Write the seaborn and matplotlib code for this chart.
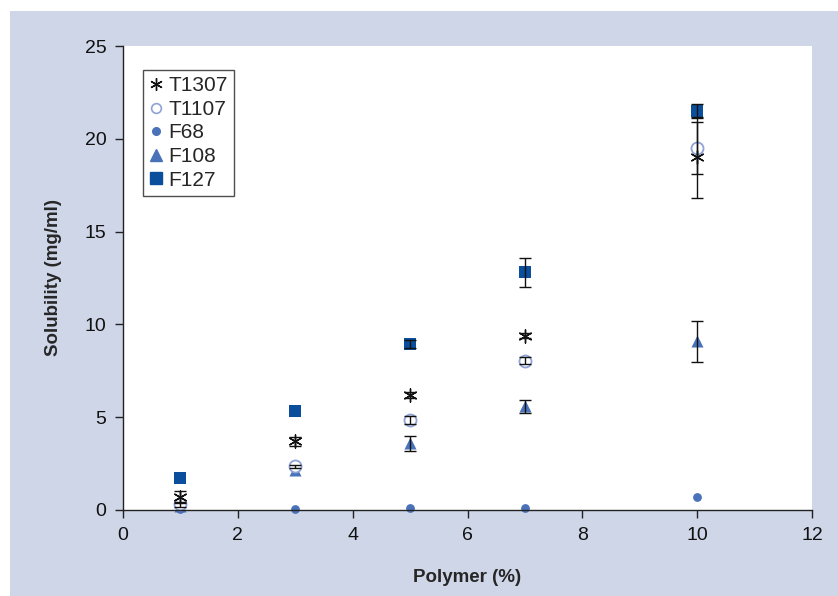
import matplotlib
matplotlib.use("Agg")
import matplotlib.pyplot as plt
from matplotlib.patches import Rectangle
from matplotlib.lines import Line2D
import seaborn as sns
import pandas as pd
import numpy as np

sns.set_theme(style="white")
plt.rcParams['font.family'] = ['Liberation Sans', 'DejaVu Sans']

polymer = [1, 3, 5, 7, 10]
series_names = ["T1307", "T1107", "F68", "F108", "F127"]
t1307 = [0.7, 3.7, 6.2, 9.4, 19.0]
t1307_err = [0.3, 0.25, 0.15, 0.15, 2.2]
t1107 = [0.3, 2.35, 4.85, 8.05, 19.5]
t1107_err = [0.15, 0.1, 0.2, 0.2, 1.4]
f68 = [0.05, 0.05, 0.1, 0.1, 0.7]
f68_err = [0.0, 0.0, 0.0, 0.0, 0.0]
f108 = [0.2, 2.15, 3.6, 5.6, 9.1]
f108_err = [0.0, 0.0, 0.4, 0.35, 1.1]
f127 = [1.75, 5.35, 8.95, 12.8, 21.5]
f127_err = [0.0, 0.0, 0.2, 0.8, 0.4]

values = {"T1307": (t1307, t1307_err), "T1107": (t1107, t1107_err),
          "F68": (f68, f68_err), "F108": (f108, f108_err), "F127": (f127, f127_err)}

styles = {
    "T1307": dict(marker=(6, 2, 0), s=90, color="#111111", linewidths=1.0),
    "T1107": dict(marker="o", s=75, facecolors="white", edgecolors="#8fa3d6", linewidths=1.3),
    "F68": dict(marker="o", s=40, color="#4a72b8", linewidths=0),
    "F108": dict(marker="^", s=75, color="#4a72b8", linewidths=0),
    "F127": dict(marker="s", s=85, color="#0b4f9c", linewidths=0),
}

fig = plt.figure(figsize=(8.38, 5.96), dpi=100)
fig.patch.set_facecolor("white")
fig.patches.append(Rectangle((10/838, 0), 1 - 10/838, 1 - 11/596, transform=fig.transFigure,
                             facecolor="#cfd6e8", edgecolor="none", zorder=-10))
ax = fig.add_axes([123/838, 1 - 510/596, (812 - 123)/838, (510 - 46)/596])
ax.set_facecolor("white")

for name in ["F68", "F108", "T1107", "F127", "T1307"]:
    y, e = values[name]
    df = pd.DataFrame({"Polymer": polymer, "Solubility": y})
    st = dict(styles[name])
    sns.scatterplot(data=df, x="Polymer", y="Solubility", ax=ax, legend=False,
                    zorder=2, clip_on=False, **st)

for name in series_names:
    y, e = values[name]
    xs = [x for x, v in zip(polymer, e) if v > 0]
    ys = [yy for yy, v in zip(y, e) if v > 0]
    es = [v for v in e if v > 0]
    if xs:
        ax.errorbar(xs, ys, yerr=es, fmt="none", ecolor="#111111", elinewidth=1.0,
                    capsize=4, capthick=1.0, zorder=3)

ax.set_xlim(0, 12)
ax.set_ylim(0, 25)
ax.set_xticks(range(0, 13, 2))
ax.set_yticks(range(0, 26, 5))
for sp in ["top", "right"]:
    ax.spines[sp].set_visible(False)
for sp in ["left", "bottom"]:
    ax.spines[sp].set_color("#222222")
    ax.spines[sp].set_linewidth(1.0)
ax.tick_params(axis="both", direction="out", length=6, width=1.0, color="#222222",
               labelsize=14, labelcolor="#111111", bottom=True, left=True, pad=6)
ax.set_xlabel("Polymer (%)", fontsize=13.5, fontweight="bold", labelpad=18)
ax.set_ylabel("Solubility (mg/ml)", fontsize=13.5, fontweight="bold", labelpad=16)

handles = []
for name in series_names:
    if name == "T1107":
        h = Line2D([], [], linestyle="none", marker="o", markersize=7, markerfacecolor="white",
                   markeredgecolor="#8fa3d6", markeredgewidth=1.2)
    elif name == "T1307":
        h = Line2D([], [], linestyle="none", marker=(6, 2, 0), markersize=9, color="#111111",
                   markeredgewidth=1.0)
    elif name == "F68":
        h = Line2D([], [], linestyle="none", marker="o", markersize=5.5, color="#4a72b8")
    elif name == "F108":
        h = Line2D([], [], linestyle="none", marker="^", markersize=8, color="#4a72b8")
    else:
        h = Line2D([], [], linestyle="none", marker="s", markersize=8, color="#0b4f9c")
    handles.append(h)
leg = ax.legend(handles, series_names, loc="upper left", bbox_to_anchor=(20/689, 1 - 24/464),
                fontsize=15, frameon=True, fancybox=False, handlelength=0.6, handletextpad=0.3,
                borderpad=0.3, labelspacing=0.22, borderaxespad=0)
leg.get_frame().set_edgecolor("#222222")
leg.get_frame().set_linewidth(1.0)

fig.savefig("out.png", dpi=100, facecolor=fig.get_facecolor())
